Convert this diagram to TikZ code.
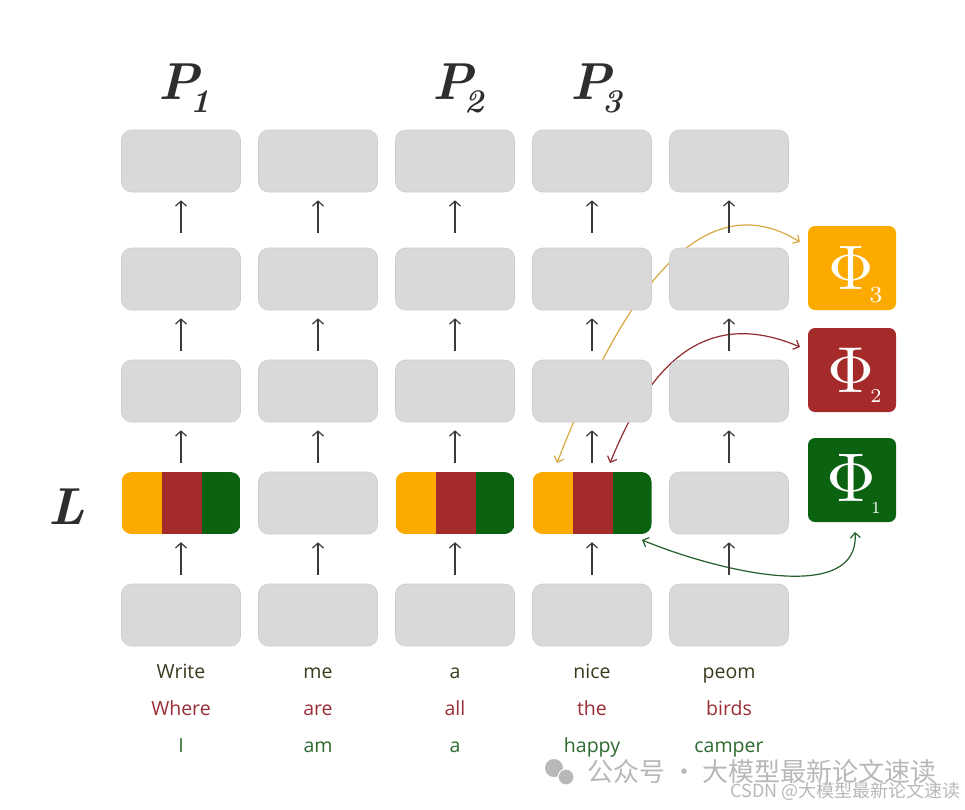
\documentclass[tikz,border=0pt]{standalone}
\usepackage{fontspec}
\usepackage{graphicx}
\setsansfont{Open Sans}
\newfontfamily\cjkfont{Noto Sans CJK SC}
\usetikzlibrary{arrows.meta}
\definecolor{boxgray}{HTML}{D9D9D9}
\definecolor{boxedge}{HTML}{CDCDCD}
\definecolor{orng}{HTML}{FDAA00}
\definecolor{redc}{HTML}{A52A2A}
\definecolor{grnc}{HTML}{0B6312}
\definecolor{curveo}{HTML}{D8A942}
\definecolor{curver}{HTML}{902C30}
\definecolor{curveg}{HTML}{245F2C}
\definecolor{arrowgray}{HTML}{3A3A3A}
\definecolor{wordA}{HTML}{3C3A1E}
\definecolor{wordB}{HTML}{9A2E37}
\definecolor{wordC}{HTML}{2E6A30}
\definecolor{wmgray}{HTML}{B8B8B8}
\definecolor{labelc}{HTML}{2E2E2E}
\newcommand{\plab}[1]{P\kern-9pt\raisebox{-13pt}{\fontsize{33}{33}\selectfont #1}}
\newcommand{\phidigit}[2]{\scalebox{#1}{\fontsize{7}{7}\selectfont #2}}
\begin{document}
\begin{tikzpicture}[x=1pt,y=-1pt,
  cell/.style={rectangle, rounded corners=10pt, minimum width=119pt, minimum height=62pt,
    inner sep=0pt, fill=boxgray, draw=boxedge, line width=0.6pt},
  splitcell/.style={rectangle, rounded corners=10pt, minimum width=119pt, minimum height=62pt,
    inner sep=0pt, path picture={
    \fill[orng, sharp corners] (path picture bounding box.north west) rectangle ([xshift=40pt]path picture bounding box.south west);
    \fill[redc, sharp corners] ([xshift=40pt]path picture bounding box.north west) rectangle ([xshift=80pt]path picture bounding box.south west);
    \fill[grnc, sharp corners] ([xshift=80pt]path picture bounding box.north west) rectangle (path picture bounding box.south east);}},
  uparrow/.style={draw=arrowgray, line width=1.2pt, -{Straight Barb[length=5pt,width=11pt]}},
  curvearrow/.style={draw=#1, line width=1.2pt,
    {Straight Barb[length=5pt,width=10pt]}-{Straight Barb[length=5pt,width=10pt]}},
  phibox/.style={rectangle, rounded corners=7pt, minimum width=88pt, minimum height=84pt, inner sep=0pt, fill=#1},
  phisym/.style={text=white, inner sep=0pt},
  phisub/.style={text=white, inner sep=0pt},
  word/.style={anchor=base, inner sep=0pt, font=\sffamily\fontsize{19.5}{19.5}\selectfont},
  plabel/.style={anchor=base, inner sep=0pt, text=labelc, font=\fontsize{52}{52}\selectfont\bfseries\itshape},
  wm/.style={inner sep=0pt, text=wmgray}
]
\useasboundingbox (0,0) rectangle (965,809);
\fill[white] (0,0) rectangle (965,809);

% curves (behind the boxes)
\coordinate (oS) at (557,463);
\coordinate (oE) at (800,242);
\coordinate (rS) at (610,463);
\coordinate (rE) at (800,347);
\coordinate (gS) at (642,540);
\coordinate (gE) at (855,532);
\draw[curvearrow=curveo] (oS) .. controls (620,300) and (700,180) .. (oE);
\draw[curvearrow=curver] (rS) .. controls (640,390) and (690,300) .. (rE);
\draw[curvearrow=curveg] (gS) .. controls (720,572) and (860,605) .. (gE);

% boxes
\foreach \c/\x in {1/181,2/318,3/455,4/592,5/729}{
  \node[cell] (c\c r5) at (\x,161) {};
  \node[cell] (c\c r4) at (\x,279) {};
  \node[cell] (c\c r3) at (\x,391) {};
  \node[cell] (c\c r1) at (\x,615) {};
}
\node[splitcell] (c1r2) at (181,503) {};
\node[cell] (c2r2) at (318,503) {};
\node[splitcell] (c3r2) at (455,503) {};
\node[splitcell] (c4r2) at (592,503) {};
\node[cell] (c5r2) at (729,503) {};

% vertical arrows
\foreach \c in {1,2,3,4,5}{
  \draw[uparrow, shorten <=15pt, shorten >=8pt] (c\c r4.north) -- (c\c r5.south);
  \draw[uparrow, shorten <=9pt, shorten >=8pt] (c\c r3.north) -- (c\c r4.south);
  \draw[uparrow, shorten <=9pt, shorten >=8pt] (c\c r2.north) -- (c\c r3.south);
  \draw[uparrow, shorten <=9pt, shorten >=8pt] (c\c r1.north) -- (c\c r2.south);
}

% Phi boxes
\node[phibox=orng] (phi3) at (852,268) {};
\node[phibox=redc] (phi2) at (852,370) {};
\node[phibox=grnc] (phi1) at (852,480) {};
\node[phisym] (phi3s) at (851,268) {\scalebox{6.3}{$\Phi$}};
\node[phisub] (phi3n) at (876,295) {\phidigit{3.3}{3}};
\node[phisym] (phi2s) at (851,370) {\scalebox{6.5}{$\Phi$}};
\node[phisub] (phi2n) at (876,396) {\phidigit{2.8}{2}};
\node[phisym] (phi1s) at (851,478) {\scalebox{6.9}{$\Phi$}};
\node[phisub] (phi1n) at (876,508) {\phidigit{2.4}{1}};

% P and L labels
\node[plabel] (p1) at (184,99) {\plab{1}};
\node[plabel] (p2) at (458,99) {\plab{2}};
\node[plabel] (p3) at (596,99) {\plab{3}};
\node[plabel] (lbl) at (67,524) {L};

% words
\node[word, text=wordA] (wa1) at (181,678) {Write};
\node[word, text=wordA] (wa2) at (318,678) {me};
\node[word, text=wordA] (wa3) at (455,678) {a};
\node[word, text=wordA] (wa4) at (592,678) {nice};
\node[word, text=wordA] (wa5) at (729,678) {peom};
\node[word, text=wordB] (wb1) at (181,715) {Where};
\node[word, text=wordB] (wb2) at (318,715) {are};
\node[word, text=wordB] (wb3) at (455,715) {all};
\node[word, text=wordB] (wb4) at (592,715) {the};
\node[word, text=wordB] (wb5) at (729,715) {birds};
\node[word, text=wordC] (wc1) at (181,752) {I};
\node[word, text=wordC] (wc2) at (318,752) {am};
\node[word, text=wordC] (wc3) at (455,752) {a};
\node[word, text=wordC] (wc4) at (592,752) {happy};
\node[word, text=wordC] (wc5) at (729,752) {camper};

% watermark
\fill[wmgray] (554,768) circle (9);
\fill[wmgray, draw=white, line width=1pt] (566,777) circle (8);
\node[wm, anchor=west, font=\cjkfont\fontsize{26}{26}\selectfont] (wm1) at (587,772) {公众号 · 大模型最新论文速读};
\node[wm, anchor=east, font=\cjkfont\fontsize{18}{18}\selectfont] (wm2) at (961,791) {CSDN @大模型最新论文速读};
\end{tikzpicture}
\end{document}
